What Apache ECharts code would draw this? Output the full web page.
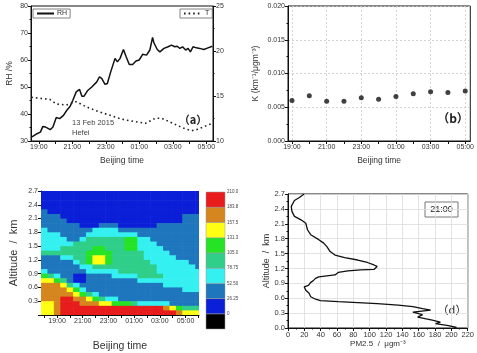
<!DOCTYPE html>
<html>
<head>
<meta charset="utf-8">
<script src="https://cdn.jsdelivr.net/npm/echarts@6/dist/echarts.min.js"></script>
<style>
html, body { margin: 0; padding: 0; background: #fff; }
#main { width: 477px; height: 353px; }
</style>
</head>
<body>
<div id="main"></div>
<script>
// time is in hours counted from 00:00 of 13 Feb (25 = 01:00 next day)
// (a) relative humidity and temperature
var rhTime = [18.59, 18.89, 19.09, 19.24, 19.38, 19.68, 19.84, 20.04, 20.24, 20.47, 20.67, 20.87, 21.03, 21.23,
    21.43, 21.57, 21.70, 21.90, 22.16, 22.46, 22.62, 22.76, 22.95, 23.09, 23.29, 23.55, 23.69, 23.85, 24.05,
    24.20, 24.40, 24.60, 24.80, 24.99, 25.20, 25.43, 25.63, 25.79, 25.87, 26.07, 26.23, 26.47, 26.72, 26.92,
    27.12, 27.26, 27.42, 27.58, 27.77, 27.91, 28.05, 28.21, 28.41, 28.61, 28.85, 29.10, 29.36];
var rhValue = [31.5, 32.7, 33.3, 35.4, 35.2, 34.2, 35.2, 38.7, 38.3, 39.5, 41.4, 42.9, 45.1, 48.2,
    49.1, 46.6, 46.6, 48.6, 50.0, 51.9, 53.8, 53.1, 51.0, 51.3, 55.6, 60.6, 59.3, 60.6, 63.9,
    61.4, 58.3, 58.3, 59.6, 60.0, 62.1, 61.8, 63.7, 68.4, 66.4, 63.9, 63.0, 64.3, 64.9, 65.5,
    64.9, 65.1, 64.3, 64.9, 63.7, 64.3, 63.0, 64.9, 64.5, 64.3, 63.9, 64.5, 65.1];
var tTime = [18.55, 19.06, 19.65, 20.05, 20.64, 21.23, 21.82, 22.41, 23.19, 23.98, 24.77, 25.36, 25.95,
    26.34, 26.93, 27.52, 28.11, 28.50, 29.09, 29.38];
var tValue = [14.86, 14.74, 14.63, 14.11, 14.00, 14.37, 13.81, 13.37, 12.89, 12.41, 12.14, 11.96, 12.52,
    12.52, 12.03, 11.52, 11.14, 11.30, 11.78, 11.96];

// (b) extinction coefficient per unit mass
var kTime = [19, 20, 21, 22, 23, 24, 25, 26, 27, 28, 29];
var kValue = [0.0060, 0.0067, 0.0059, 0.0059, 0.0064, 0.0062, 0.0066, 0.0070, 0.0073, 0.0072, 0.0074];

// (c) PM2.5 field, class index per cell (0 = below 0 ... 8 = 183.8-210.0)
var pmTime = [18.0, 18.5, 19.0, 19.5, 20.0, 20.5, 21.0, 21.5, 22.0, 22.5, 23.0, 23.5, 24.0,
    24.5, 25.0, 25.5, 26.0, 26.5, 27.0, 27.5, 28.0, 28.5, 29.0, 29.5, 30.0];
var pmAltitude = [0.05, 0.15, 0.25, 0.35, 0.45, 0.55, 0.65, 0.75, 0.85, 0.95, 1.05, 1.15, 1.25, 1.35,
    1.45, 1.55, 1.65, 1.75, 1.85, 1.95, 2.05, 2.15, 2.25, 2.35, 2.45, 2.55, 2.65];
// rows from the top (2.65 km) down to 0.05 km
var pmClassRows = [
    '1111111111111111111111111',
    '1111111111111111111111111',
    '1111111111111111111111111',
    '1111111111111111111111111',
    '2111111111111111111111111',
    '2221111111111111111111222',
    '2222111111111111111111222',
    '2222221112221111112222222',
    '3222222233332222222222222',
    '3332222333333332222222222',
    '3333223444444553322222222',
    '3333344444444553332222222',
    '3334444455444553333222222',
    '4444444555544444333322222',
    '2223344566544444333332222',
    '2222234566544444433333322',
    '2222223344444444443333332',
    '3222222333334444443333333',
    '5432211222233334444333333',
    '6654211222222223333333333',
    '7776432222222222222333333',
    '7777653222222222222222333',
    '7777765432222222222222222',
    '7778877654332222222222222',
    '6678887776655543333322222',
    '6678888888888888888765444',
    '6678888888888888888887666'
];
var pmBounds = [-26.25, 0, 26.25, 52.5, 78.75, 105, 131.25, 157.5, 183.75, 210];
var pmBoundLabels = ['', '0', '26.25', '52.50', '78.75', '105.0', '131.3', '157.5', '183.8', '210.0'];
var pmColors = ['#000000', '#0b1fd8', '#1e76bd', '#35f0f0', '#2fcf8a', '#25e325', '#ffff14', '#d5861e', '#e81c1c'];

// (d) PM2.5 profile at 21:00
var profilePM = [19.8, 13.9, 7.9, 4.0, 4.8, 7.9, 15.9, 21.8, 23.8, 27.8, 37.7, 43.7, 47.6, 51.6, 57.5, 69.4,
    85.3, 97.2, 105.2, 109.1, 105.2, 89.3, 73.4, 61.5, 57.5, 37.7, 33.7, 30.6, 27.8, 25.0, 19.8, 18.7,
    21.8, 25.8, 27.8, 33.7, 39.7, 61.5, 85.3, 109.1, 134.9, 152.8, 164.7, 174.6, 152.8, 164.7, 158.7,
    176.6, 186.5, 180.6, 196.4, 206.3];
var profileAlt = [2.70, 2.63, 2.57, 2.45, 2.35, 2.25, 2.18, 2.11, 1.98, 1.88, 1.78, 1.71, 1.64, 1.54, 1.47, 1.42,
    1.37, 1.32, 1.27, 1.24, 1.18, 1.17, 1.15, 1.12, 1.07, 1.03, 1.00, 0.95, 0.92, 0.86, 0.83, 0.80,
    0.76, 0.70, 0.63, 0.58, 0.55, 0.53, 0.51, 0.49, 0.46, 0.43, 0.39, 0.36, 0.32, 0.27, 0.22,
    0.16, 0.12, 0.09, 0.05, 0.01];

var hourTicks = [19, 20, 21, 22, 23, 24, 25, 26, 27, 28, 29];
var hourTicksWide = [18, 19, 20, 21, 22, 23, 24, 25, 26, 27, 28, 29, 30];
var hourLabels = [19, 21, 23, 25, 27, 29];

var FONT = "'Liberation Sans', Arial, sans-serif";
var CJK = "'Noto Sans CJK SC', sans-serif";

function hourText(v) {
    var h = Math.round(v) % 24;
    return (h < 10 ? '0' : '') + h + ':00';
}
function zip(a, b) {
    var res = [];
    for (var i = 0; i < a.length; i++) res.push([a[i], b[i]]);
    return res;
}

var fieldData = [];
for (var i = 0; i < pmClassRows.length; i++) {
    var alt = pmAltitude[pmAltitude.length - 1 - i];
    for (var j = 0; j < pmTime.length; j++) {
        fieldData.push([pmTime[j], alt, +pmClassRows[i].charAt(j)]);
    }
}
var barData = [];
for (var k = 0; k < pmColors.length; k++) barData.push([0, k]);

var lineBlack = { lineStyle: { color: '#111', width: 1 } };
var tickOut = { show: true, length: 3, lineStyle: { color: '#111' } };
var minorOut = { show: true, splitNumber: 2, length: 1.5, lineStyle: { color: '#111' } };
var lab = { fontFamily: FONT, fontSize: 7, color: '#333', margin: 3 };
var nameFont = { fontFamily: FONT, fontSize: 8.5, color: '#333' };

var myChart = echarts.init(document.getElementById('main'));

var legendBase = {
    padding: [1, 3, 1, 3], itemGap: 2, itemHeight: 7,
    borderColor: '#666', borderWidth: 0.8,
    itemStyle: { opacity: 0 },
    textStyle: { fontFamily: FONT, fontSize: 7, color: '#333', padding: [0, 0, 0, -2] }
};

var option = {
    backgroundColor: '#fff',
    animation: false,
    grid: [
        { left: 31, right: 264, top: 6, bottom: 212, show: true, borderColor: '#111', borderWidth: 1 },
        { left: 288, right: 5, top: 6, bottom: 212, show: true, borderColor: '#111', borderWidth: 1 },
        { left: 41, right: 278, top: 191, bottom: 23 },
        { left: 206, right: 252, top: 192, bottom: 24 },
        { left: 288, right: 4, top: 194, bottom: 25, show: true, borderColor: '#111', borderWidth: 1 }
    ],
    legend: [
        Object.assign({ data: ['RH'], left: 33, top: 9, itemWidth: 17 }, legendBase),
        Object.assign({ data: ['T'], left: 180, top: 9, itemWidth: 18 }, legendBase)
    ],
    xAxis: [
        {   // (a)
            type: 'value', gridIndex: 0, min: 18.53, max: 29.4,
            axisLine: lineBlack, splitLine: { show: false },
            axisTick: { show: true, length: 3, lineStyle: { color: '#111' }, customValues: hourTicks },
            axisLabel: Object.assign({ customValues: hourLabels, formatter: hourText }, lab),
            name: 'Beijing time', nameLocation: 'middle', nameGap: 15, nameTextStyle: nameFont
        },
        {   // (b)
            type: 'value', gridIndex: 1, min: 18.77, max: 29.29,
            axisLine: lineBlack, splitLine: { show: false },
            axisTick: { show: true, length: 3, lineStyle: { color: '#111' }, customValues: hourTicks },
            axisLabel: Object.assign({ customValues: hourLabels, formatter: hourText }, lab),
            name: 'Beijing time', nameLocation: 'middle', nameGap: 15, nameTextStyle: nameFont
        },
        {   // (b) vertical grid lines
            type: 'value', gridIndex: 1, min: 18.77, max: 29.29,
            axisLine: { show: false }, axisLabel: { show: false },
            axisTick: { show: false, customValues: hourLabels },
            splitLine: { show: true, lineStyle: { color: '#c8c8c8', type: [2, 2], width: 0.8 } }
        },
        {   // (c)
            type: 'value', gridIndex: 2, min: 17.75, max: 30.05,
            axisLine: lineBlack, splitLine: { show: false },
            axisTick: { show: true, length: 3, lineStyle: { color: '#111' }, customValues: hourTicksWide },
            axisLabel: Object.assign({ customValues: hourLabels, formatter: hourText }, lab),
            name: 'Beijing time', nameLocation: 'middle', nameGap: 26,
            nameTextStyle: { fontFamily: FONT, fontSize: 10.5, color: '#333' }
        },
        {   // colour bar
            type: 'category', gridIndex: 3, data: [''],
            axisLine: { show: false }, axisTick: { show: false }, axisLabel: { show: false }
        },
        {   // (d)
            type: 'value', gridIndex: 4, min: 0, max: 220, interval: 20,
            axisLine: lineBlack, axisTick: tickOut, minorTick: minorOut,
            splitLine: { show: true, lineStyle: { color: '#dcdcdc', width: 0.8 } },
            axisLabel: Object.assign({}, lab, { fontSize: 7.5 }),
            name: 'PM2.5  /  \u03bcgm\u207b\u00b3', nameLocation: 'middle', nameGap: 10,
            nameTextStyle: { fontFamily: FONT, fontSize: 8, color: '#333' }
        }
    ],
    yAxis: [
        {   // (a) RH
            type: 'value', gridIndex: 0, min: 30, max: 80, interval: 10,
            axisLine: lineBlack, axisTick: tickOut, minorTick: minorOut, splitLine: { show: false },
            axisLabel: lab,
            name: 'RH /%', nameLocation: 'middle', nameRotate: 90, nameGap: 17, nameTextStyle: nameFont
        },
        {   // (a) T
            type: 'value', gridIndex: 0, position: 'right', min: 10, max: 25, interval: 5,
            axisLine: lineBlack, axisTick: tickOut, minorTick: minorOut, splitLine: { show: false },
            axisLabel: lab
        },
        {   // (b)
            type: 'value', gridIndex: 1, min: 0, max: 0.02, interval: 0.005,
            axisLine: lineBlack, axisTick: tickOut, minorTick: minorOut,
            splitLine: { show: true, lineStyle: { color: '#c8c8c8', type: [2, 2], width: 0.8 } },
            axisLabel: Object.assign({ formatter: function (v) { return v.toFixed(3); } }, lab),
            name: 'K (km\u207b\u00b9/\u03bcgm\u207b\u00b3)', nameLocation: 'middle', nameRotate: 90, nameGap: 28,
            nameTextStyle: nameFont
        },
        {   // (c)
            type: 'value', gridIndex: 2, min: 0, max: 2.7, interval: 0.3,
            axisLine: lineBlack, axisTick: tickOut, splitLine: { show: false },
            axisLabel: Object.assign({ formatter: function (v) { return v < 0.01 ? '' : v.toFixed(1); } }, lab),
            name: 'Altitude  /  km', nameLocation: 'middle', nameRotate: 90, nameGap: 22,
            nameTextStyle: { fontFamily: FONT, fontSize: 11, color: '#333' }
        },
        {   // colour bar
            type: 'value', gridIndex: 3, position: 'right', min: -26.25, max: 210, interval: 26.25,
            axisLine: { show: false }, axisTick: { show: false }, splitLine: { show: false },
            axisLabel: {
                fontFamily: FONT, fontSize: 4.5, color: '#444', margin: 2,
                formatter: function (v) {
                    for (var i = 0; i < pmBounds.length; i++) {
                        if (Math.abs(pmBounds[i] - v) < 0.01) return pmBoundLabels[i];
                    }
                    return '';
                }
            }
        },
        {   // (d)
            type: 'value', gridIndex: 4, min: 0, max: 2.7, interval: 0.3,
            axisLine: lineBlack, axisTick: tickOut, minorTick: minorOut,
            splitLine: { show: true, lineStyle: { color: '#dcdcdc', width: 0.8 } },
            axisLabel: Object.assign({ formatter: function (v) { return v.toFixed(1); } }, lab, { fontSize: 7.5 }),
            name: 'Altitude  /  km', nameLocation: 'middle', nameRotate: 90, nameGap: 17,
            nameTextStyle: { fontFamily: FONT, fontSize: 9, color: '#333' }
        }
    ],
    series: [
        {
            name: 'RH', type: 'line', xAxisIndex: 0, yAxisIndex: 0,
            data: zip(rhTime, rhValue), symbol: 'none',
            lineStyle: { color: '#111', width: 1.5 }, itemStyle: { color: '#111' }
        },
        {
            name: 'T', type: 'line', xAxisIndex: 0, yAxisIndex: 1,
            data: zip(tTime, tValue), symbol: 'none',
            lineStyle: { color: '#222', width: 1.6, type: [1.6, 3] }, itemStyle: { color: '#222' }
        },
        {
            name: 'K', type: 'scatter', xAxisIndex: 1, yAxisIndex: 2,
            data: zip(kTime, kValue), symbolSize: 5, itemStyle: { color: '#111' }
        },
        {
            name: 'PM2.5', type: 'custom', xAxisIndex: 3, yAxisIndex: 3,
            data: fieldData, encode: { x: 0, y: 1 }, silent: true,
            renderItem: function (params, api) {
                var t = api.value(0), a = api.value(1);
                var p0 = api.coord([t - 0.25, a + 0.05]);
                var p1 = api.coord([t + 0.25, a - 0.05]);
                var shape = echarts.graphic.clipRectByRect({
                    x: p0[0], y: p0[1], width: p1[0] - p0[0] + 0.6, height: p1[1] - p0[1] + 0.6
                }, params.coordSys);
                if (!shape) return;
                return { type: 'rect', shape: shape, style: { fill: pmColors[api.value(2)] } };
            }
        },
        {
            name: 'scale', type: 'custom', xAxisIndex: 4, yAxisIndex: 4,
            data: barData, silent: true,
            renderItem: function (params, api) {
                var k = api.value(1);
                var cs = params.coordSys;
                var yTop = api.coord([0, pmBounds[k + 1]])[1];
                var yBot = api.coord([0, pmBounds[k]])[1];
                return {
                    type: 'rect',
                    shape: { x: cs.x, y: yTop, width: cs.width, height: yBot - yTop },
                    style: { fill: pmColors[k], stroke: '#999', lineWidth: 0.5 }
                };
            }
        },
        {
            name: 'profile', type: 'line', xAxisIndex: 5, yAxisIndex: 5,
            data: zip(profilePM, profileAlt), symbol: 'none',
            lineStyle: { color: '#111', width: 1.3 }
        }
    ],
    graphic: [
        { type: 'text', style: { text: '13 Feb 2015', x: 72, y: 123, font: '7.5px ' + FONT, fill: '#444', verticalAlign: 'middle', textVerticalAlign: 'middle' } },
        { type: 'text', style: { text: 'Hefei', x: 72, y: 133, font: '7.5px ' + FONT, fill: '#444', verticalAlign: 'middle', textVerticalAlign: 'middle' } },
        { type: 'text', style: { text: '\uff08a\uff09', x: 193, y: 120, font: 'bold 11px ' + CJK, fill: '#222', align: 'center', textAlign: 'center', verticalAlign: 'middle', textVerticalAlign: 'middle' } },
        { type: 'text', style: { text: '\uff08b\uff09', x: 453, y: 118, font: 'bold 12px ' + CJK, fill: '#222', align: 'center', textAlign: 'center', verticalAlign: 'middle', textVerticalAlign: 'middle' } },
        { type: 'text', style: { text: '\uff08c\uff09', x: 169, y: 309, font: 'bold 10px ' + CJK, fill: '#111', align: 'center', textAlign: 'center', verticalAlign: 'middle', textVerticalAlign: 'middle' } },
        { type: 'text', style: { text: '\uff08d\uff09', x: 452, y: 310, font: '11px ' + CJK, fill: '#222', align: 'center', textAlign: 'center', verticalAlign: 'middle', textVerticalAlign: 'middle' } },
        { type: 'text', style: { text: 'PM2.5  /  \u03bcgm\u207b\u00b3', x: 118, y: 215, font: '9px ' + FONT, fill: '#0a0a3a', verticalAlign: 'middle', textVerticalAlign: 'middle' } },
        { type: 'rect', shape: { x: 425, y: 202, width: 33, height: 15 }, style: { fill: '#fff', stroke: '#777', lineWidth: 1 } },
        { type: 'text', style: { text: '21:00', x: 441.5, y: 209.5, font: '9px ' + FONT, fill: '#222', align: 'center', textAlign: 'center', verticalAlign: 'middle', textVerticalAlign: 'middle' } }
    ]
};
myChart.setOption(option);
</script>
</body>
</html>
